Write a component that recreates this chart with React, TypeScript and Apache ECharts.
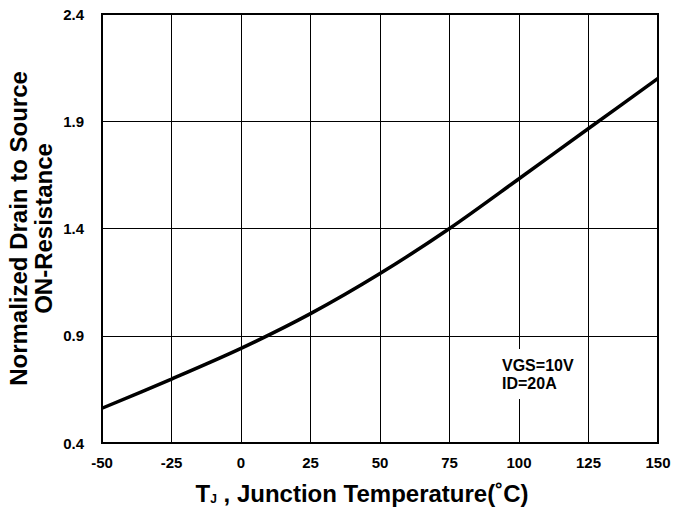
import React, { useEffect, useRef } from "react";
import * as echarts from "echarts";

const temperatures = [-50, -25, 0, 25, 50, 75, 100, 125, 150];
const resistance = [0.562, 0.698, 0.841, 1.003, 1.19, 1.4, 1.632, 1.866, 2.1];
const xTicks = { min: -50, max: 150, interval: 25 };
const yTicks = { min: 0.4, max: 2.4, interval: 0.5 };
const noteLines = ["VGS=10V", "ID=20A"];

export default function App() {
  const ref = useRef<HTMLDivElement>(null);
  useEffect(() => {
    if (!ref.current) return;
    const chart = echarts.init(ref.current, null, { renderer: "svg" });
    const font = "Liberation Sans, Arial, sans-serif";
    chart.setOption({
      animation: false,
      backgroundColor: "#fff",
      textStyle: { fontFamily: font },
      grid: {
        left: 102,
        right: 15,
        top: 14,
        bottom: 68,
        show: true,
        borderColor: "#000",
        borderWidth: 2,
        containLabel: false,
        outerBoundsMode: "none",
      },
      xAxis: {
        type: "value",
        min: xTicks.min,
        max: xTicks.max,
        interval: xTicks.interval,
        axisLine: { show: true, onZero: false, lineStyle: { color: "#000", width: 2 } },
        axisTick: { show: false },
        splitLine: { show: true, lineStyle: { color: "#000", width: 1 } },
        axisLabel: {
          color: "#000",
          fontWeight: "bold",
          fontSize: 15,
          fontFamily: font,
          margin: 12,
        },
        name: "T{sub|J} , Junction Temperature(˚C)",
        nameLocation: "middle",
        nameGap: 38,
        nameMoveOverlap: false,
        nameTextStyle: {
          color: "#000",
          fontWeight: "bold",
          fontSize: 24,
          fontFamily: font,
          padding: [0, 36, 0, 0],
          rich: {
            sub: {
              fontSize: 12,
              fontWeight: "bold",
              color: "#000",
              fontFamily: font,
              verticalAlign: "bottom",
              padding: [8, 0, 0, 0],
            },
          },
        },
      },
      yAxis: {
        type: "value",
        min: yTicks.min,
        max: yTicks.max,
        interval: yTicks.interval,
        axisLine: { show: true, onZero: false, lineStyle: { color: "#000", width: 2 } },
        axisTick: { show: false },
        splitLine: { show: true, lineStyle: { color: "#000", width: 1 } },
        axisLabel: {
          color: "#000",
          fontWeight: "bold",
          fontSize: 15,
          fontFamily: font,
          margin: 18,
          formatter: (v: number) => v.toFixed(1),
        },
        name: "Normalized Drain to Source\nON-Resistance",
        nameLocation: "middle",
        nameRotate: 90,
        nameGap: 46,
        nameMoveOverlap: false,
        nameTextStyle: {
          color: "#000",
          fontWeight: "bold",
          fontSize: 24,
          lineHeight: 25,
          fontFamily: font,
        },
      },
      series: [
        {
          type: "line",
          data: temperatures.map((t, i) => [t, resistance[i]]),
          smooth: 0.3,
          showSymbol: false,
          lineStyle: { color: "#000", width: 3.5 },
        },
      ],
      graphic: [
        {
          type: "rect",
          left: 497,
          top: 349,
          shape: { width: 80, height: 50 },
          style: { fill: "#fff" },
          z: 10,
        },
        {
          type: "text",
          left: 502,
          top: 356,
          z: 11,
          style: {
            text: noteLines.join("\n"),
            fill: "#000",
            font: `bold 16px ${font}`,
            lineHeight: 18,
          },
        },
      ],
    });
    return () => chart.dispose();
  }, []);
  return (
    <div
      ref={ref}
      style={{ position: "fixed", left: 0, top: 0, width: 673, height: 511 }}
    />
  );
}
